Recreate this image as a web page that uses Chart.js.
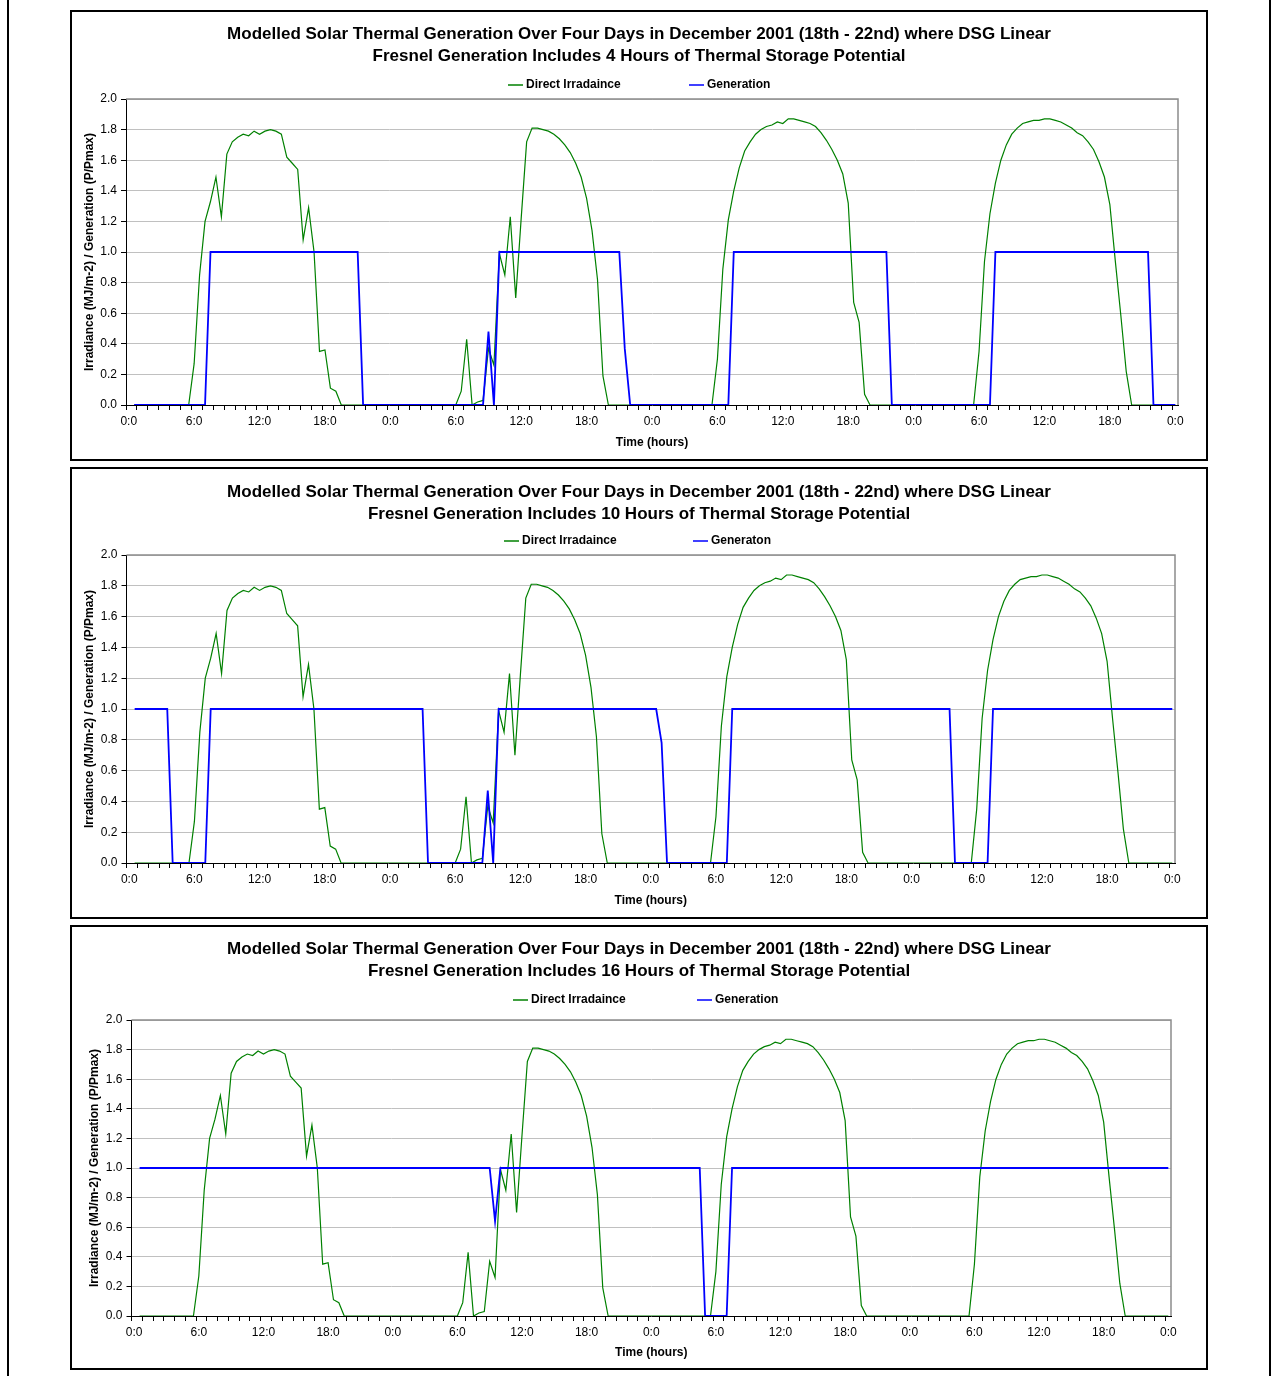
<!DOCTYPE html>
<html>
<head>
<meta charset="utf-8">
<title>Modelled Solar Thermal Generation, December 2001</title>
<script src="https://cdn.jsdelivr.net/npm/chart.js@4.4.1/dist/chart.umd.min.js"></script>
<style>
  body { margin: 0; background: #fff; }
  #page { position: relative; width: 1273px; height: 1376px; overflow: hidden; }
  #frame { position: absolute; left: 7px; top: 0; width: 1264px; height: 1376px;
           border-left: 2px solid #000; border-right: 2px solid #000; box-sizing: border-box; }
  .panel { position: absolute; left: 70px; width: 1138px; border: 2px solid #000;
           box-sizing: border-box; background: #fff; }
  .panel canvas { display: block; }
</style>
</head>
<body>
<div id="page"><div id="frame"></div></div>
<script>
const FONT = "'Liberation Sans', Arial, sans-serif";
Chart.defaults.font.family = FONT;
Chart.defaults.color = '#000';

// half-hourly time steps, 18th 0:0 .. 22nd 0:0
const categories = [];
for (let d = 18; d < 22; d++) {
    for (let h = 0; h < 24; h++) {
        categories.push(d + ' ' + h + ':0', d + ' ' + h + ':30');
    }
}
categories.push('22 0:0');

// labels shown every 6 hours
const tickLabels = ['0:0', '6:0', '12:0', '18:0'];

const titleLine1 = 'Modelled Solar Thermal Generation Over Four Days in December 2001 (18th - 22nd) where DSG Linear';

// direct irradiance, one row = 6 hours
const irradiance = [
    null,
    // 18th
    0, 0, 0, 0, 0, 0, 0, 0, 0, 0, 0, 0.27,
    0.85, 1.20, 1.33, 1.49, 1.23, 1.64, 1.72, 1.75, 1.77, 1.76, 1.79, 1.77,
    1.79, 1.80, 1.79, 1.77, 1.62, 1.58, 1.54, 1.08, 1.29, 1.00, 0.35, 0.36,
    0.11, 0.09, 0, 0, 0, 0, 0, 0, 0, 0, 0, 0,
    // 19th
    0, 0, 0, 0, 0, 0, 0, 0, 0, 0, 0, 0,
    0.09, 0.43, 0, 0.02, 0.03, 0.37, 0.26, 0.99, 0.85, 1.23, 0.70, 1.22,
    1.72, 1.81, 1.81, 1.80, 1.79, 1.77, 1.74, 1.70, 1.65, 1.58, 1.49, 1.35,
    1.14, 0.82, 0.19, 0, 0, 0, 0, 0, 0, 0, 0, 0,
    // 20th
    0, 0, 0, 0, 0, 0, 0, 0, 0, 0, 0, 0.30,
    0.89, 1.21, 1.40, 1.55, 1.66, 1.72, 1.77, 1.80, 1.82, 1.83, 1.85, 1.84,
    1.87, 1.87, 1.86, 1.85, 1.84, 1.82, 1.78, 1.73, 1.67, 1.60, 1.51, 1.32,
    0.67, 0.54, 0.07, 0, 0, 0, 0, 0, 0, 0, 0, 0,
    // 21st
    0, 0, 0, 0, 0, 0, 0, 0, 0, 0, 0, 0.35,
    0.94, 1.25, 1.45, 1.60, 1.70, 1.77, 1.81, 1.84, 1.85, 1.86, 1.86, 1.87,
    1.87, 1.86, 1.85, 1.83, 1.81, 1.78, 1.76, 1.72, 1.67, 1.59, 1.49, 1.31,
    0.94, 0.59, 0.22, 0, 0, 0, 0, 0, 0, 0, 0, 0
];

// generation with 4 hours of storage
const gen4 = [
    null,
    0, 0, 0, 0, 0, 0, 0, 0, 0, 0, 0, 0,
    0, 0, 1, 1, 1, 1, 1, 1, 1, 1, 1, 1,
    1, 1, 1, 1, 1, 1, 1, 1, 1, 1, 1, 1,
    1, 1, 1, 1, 1, 1, 0, 0, 0, 0, 0, 0,

    0, 0, 0, 0, 0, 0, 0, 0, 0, 0, 0, 0,
    0, 0, 0, 0, 0, 0.48, 0, 1, 1, 1, 1, 1,
    1, 1, 1, 1, 1, 1, 1, 1, 1, 1, 1, 1,
    1, 1, 1, 1, 1, 1, 0.37, 0, 0, 0, 0, 0,

    0, 0, 0, 0, 0, 0, 0, 0, 0, 0, 0, 0,
    0, 0, 1, 1, 1, 1, 1, 1, 1, 1, 1, 1,
    1, 1, 1, 1, 1, 1, 1, 1, 1, 1, 1, 1,
    1, 1, 1, 1, 1, 1, 1, 0, 0, 0, 0, 0,

    0, 0, 0, 0, 0, 0, 0, 0, 0, 0, 0, 0,
    0, 0, 1, 1, 1, 1, 1, 1, 1, 1, 1, 1,
    1, 1, 1, 1, 1, 1, 1, 1, 1, 1, 1, 1,
    1, 1, 1, 1, 1, 1, 1, 0, 0, 0, 0, 0
];

// generation with 10 hours of storage
const gen10 = [
    null,
    1, 1, 1, 1, 1, 1, 1, 0, 0, 0, 0, 0,
    0, 0, 1, 1, 1, 1, 1, 1, 1, 1, 1, 1,
    1, 1, 1, 1, 1, 1, 1, 1, 1, 1, 1, 1,
    1, 1, 1, 1, 1, 1, 1, 1, 1, 1, 1, 1,

    1, 1, 1, 1, 1, 1, 0, 0, 0, 0, 0, 0,
    0, 0, 0, 0, 0, 0.47, 0, 1, 1, 1, 1, 1,
    1, 1, 1, 1, 1, 1, 1, 1, 1, 1, 1, 1,
    1, 1, 1, 1, 1, 1, 1, 1, 1, 1, 1, 1,

    1, 0.78, 0, 0, 0, 0, 0, 0, 0, 0, 0, 0,
    0, 0, 1, 1, 1, 1, 1, 1, 1, 1, 1, 1,
    1, 1, 1, 1, 1, 1, 1, 1, 1, 1, 1, 1,
    1, 1, 1, 1, 1, 1, 1, 1, 1, 1, 1, 1,

    1, 1, 1, 1, 1, 1, 1, 0, 0, 0, 0, 0,
    0, 0, 1, 1, 1, 1, 1, 1, 1, 1, 1, 1,
    1, 1, 1, 1, 1, 1, 1, 1, 1, 1, 1, 1,
    1, 1, 1, 1, 1, 1, 1, 1, 1, 1, 1, 1
];

// generation with 16 hours of storage
const gen16 = [
    null,
    1, 1, 1, 1, 1, 1, 1, 1, 1, 1, 1, 1,
    1, 1, 1, 1, 1, 1, 1, 1, 1, 1, 1, 1,
    1, 1, 1, 1, 1, 1, 1, 1, 1, 1, 1, 1,
    1, 1, 1, 1, 1, 1, 1, 1, 1, 1, 1, 1,

    1, 1, 1, 1, 1, 1, 1, 1, 1, 1, 1, 1,
    1, 1, 1, 1, 1, 1, 0.64, 1, 1, 1, 1, 1,
    1, 1, 1, 1, 1, 1, 1, 1, 1, 1, 1, 1,
    1, 1, 1, 1, 1, 1, 1, 1, 1, 1, 1, 1,

    1, 1, 1, 1, 1, 1, 1, 1, 1, 0, 0, 0,
    0, 0, 1, 1, 1, 1, 1, 1, 1, 1, 1, 1,
    1, 1, 1, 1, 1, 1, 1, 1, 1, 1, 1, 1,
    1, 1, 1, 1, 1, 1, 1, 1, 1, 1, 1, 1,

    1, 1, 1, 1, 1, 1, 1, 1, 1, 1, 1, 1,
    1, 1, 1, 1, 1, 1, 1, 1, 1, 1, 1, 1,
    1, 1, 1, 1, 1, 1, 1, 1, 1, 1, 1, 1,
    1, 1, 1, 1, 1, 1, 1, 1, 1, 1, 1, 1
];

const panels = [
    { top: 10, height: 451, hours: 4, genLabel: 'Generation', gen: gen4,
      titleY: [22, 44], padTop: 87, padRight: 28, yWidth: 54, xHeight: 54,
      legendX: [436, 617], legendY: 73, yTitlePad: 10, xTitlePad: 9 },
    { top: 467, height: 452, hours: 10, genLabel: 'Generaton', gen: gen10,
      titleY: [23, 45], padTop: 86, padRight: 31, yWidth: 54.5, xHeight: 54,
      legendX: [432, 621], legendY: 72, yTitlePad: 10, xTitlePad: 9 },
    { top: 925, height: 445, hours: 16, genLabel: 'Generation', gen: gen16,
      titleY: [22, 44], padTop: 93, padRight: 35, yWidth: 59.5, xHeight: 52,
      legendX: [441, 625], legendY: 73, yTitlePad: 15, xTitlePad: 8 }
];

// two-line heading and line-sample legend, both at fixed spots in the panel
const panelText = {
    id: 'panelText',
    afterDraw(chart, args, opts) {
        const ctx = chart.ctx;
        ctx.save();
        ctx.fillStyle = '#000';
        ctx.textBaseline = 'middle';

        ctx.font = 'bold 17px ' + FONT;
        ctx.textAlign = 'center';
        opts.title.forEach((line, i) => ctx.fillText(line, chart.width / 2, opts.titleY[i]));

        ctx.font = 'bold 12px ' + FONT;
        ctx.textAlign = 'left';
        chart.data.datasets.forEach((ds, i) => {
            const x = opts.legendX[i];
            ctx.strokeStyle = ds.borderColor;
            ctx.lineWidth = 1.5;
            ctx.beginPath();
            ctx.moveTo(x, opts.legendY);
            ctx.lineTo(x + 15, opts.legendY);
            ctx.stroke();
            ctx.fillText(ds.label, x + 18, opts.legendY);
        });
        ctx.restore();
    }
};

// grey top and right edges of the plot area
const plotFrame = {
    id: 'plotFrame',
    beforeDatasetsDraw(chart) {
        const { ctx, chartArea: a } = chart;
        ctx.save();
        ctx.strokeStyle = '#8c8c8c';
        ctx.lineWidth = 1.5;
        ctx.beginPath();
        ctx.moveTo(a.left, a.top);
        ctx.lineTo(a.right, a.top);
        ctx.lineTo(a.right, a.bottom);
        ctx.stroke();
        ctx.restore();
    }
};

function makePanel(p) {
    const box = document.createElement('div');
    box.className = 'panel';
    box.style.top = p.top + 'px';
    box.style.height = p.height + 'px';
    const cv = document.createElement('canvas');
    cv.width = 1134;
    cv.height = p.height - 4;
    box.appendChild(cv);
    document.getElementById('page').appendChild(box);

    new Chart(cv, {
        type: 'line',
        data: {
            labels: categories,
            datasets: [
                { label: 'Direct Irradaince', data: irradiance, borderColor: '#008000',
                  borderWidth: 1.2, order: 2 },
                { label: p.genLabel, data: p.gen, borderColor: '#0000ff',
                  borderWidth: 1.8, order: 1 }
            ]
        },
        options: {
            responsive: false,
            animation: false,
            events: [],
            layout: { padding: { top: p.padTop, right: p.padRight, bottom: 0, left: 0 } },
            elements: { point: { radius: 0 }, line: { tension: 0 } },
            plugins: {
                legend: { display: false },
                tooltip: { enabled: false },
                panelText: {
                    title: [titleLine1, 'Fresnel Generation Includes ' + p.hours + ' Hours of Thermal Storage Potential'],
                    titleY: p.titleY,
                    legendX: p.legendX,
                    legendY: p.legendY
                }
            },
            scales: {
                x: {
                    type: 'category',
                    offset: true,
                    afterFit: s => { s.height = p.xHeight; },
                    border: { color: '#000', width: 1 },
                    grid: {
                        offset: true,
                        drawOnChartArea: false,
                        tickLength: 5,
                        tickColor: c => c.index % 2 === 0 ? '#000' : 'rgba(0,0,0,0)'
                    },
                    ticks: {
                        autoSkip: false,
                        maxRotation: 0,
                        minRotation: 0,
                        padding: 4,
                        font: { size: 12 },
                        callback: (v, i) => i % 12 === 0 ? tickLabels[(i / 12) % 4] : ''
                    },
                    title: {
                        display: true,
                        text: 'Time (hours)',
                        font: { size: 12, weight: 'bold' },
                        padding: { top: 0, bottom: p.xTitlePad }
                    }
                },
                y: {
                    min: 0,
                    max: 2,
                    afterFit: s => { s.width = p.yWidth; },
                    border: { color: '#000', width: 1 },
                    grid: {
                        color: c => c.tick && c.tick.value === 0 ? 'rgba(0,0,0,0)' : '#c0c0c0',
                        tickColor: '#000',
                        tickLength: 5
                    },
                    ticks: {
                        stepSize: 0.2,
                        padding: 4,
                        font: { size: 12 },
                        callback: v => v.toFixed(1)
                    },
                    title: {
                        display: true,
                        text: 'Irradiance (MJ/m-2) / Generation (P/Pmax)',
                        font: { size: 12, weight: 'bold' },
                        padding: { top: p.yTitlePad, bottom: 0 }
                    }
                }
            }
        },
        plugins: [panelText, plotFrame]
    });
}

panels.forEach(makePanel);
</script>
</body>
</html>
